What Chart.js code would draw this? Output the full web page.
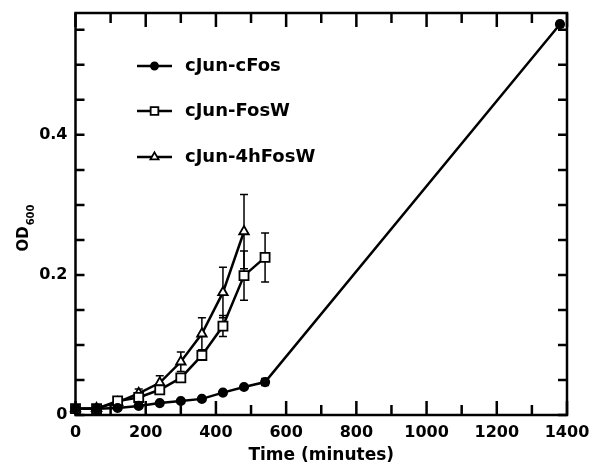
<!DOCTYPE html>
<html>
<head>
<meta charset="utf-8">
<script src="https://cdn.jsdelivr.net/npm/chart.js@4/dist/chart.umd.min.js"></script>
<style>
  body { margin: 0; background: #fff; }
  #wrap { width: 592px; height: 468px; }
</style>
</head>
<body>
<div id="wrap"><canvas id="growthChart" width="592" height="468"></canvas></div>
<script>
// time points (minutes)
const timesShort = [0, 60, 120, 180, 240, 300, 360, 420, 480, 540];
const timesFos = [0, 60, 120, 180, 240, 300, 360, 420, 480, 540, 1380];
const timesHFosW = [0, 60, 120, 180, 240, 300, 360, 420, 480];

// OD600 values
const cFosValues = [0.009, 0.009, 0.010, 0.013, 0.017, 0.020, 0.023, 0.032, 0.040, 0.047, 0.558];
const cFosErrors = [0, 0, 0, 0, 0, 0, 0, 0, 0, 0.005, 0.004];
const fosWValues = [0.009, 0.009, 0.020, 0.025, 0.036, 0.053, 0.085, 0.127, 0.199, 0.225];
const fosWErrors = [0, 0, 0.002, 0.003, 0.005, 0.004, 0.004, 0.015, 0.035, 0.035];
const hFosWValues = [0.009, 0.0095, 0.018, 0.031, 0.046, 0.076, 0.116, 0.175, 0.262];
const hFosWErrors = [0, 0, 0.002, 0.006, 0.010, 0.014, 0.023, 0.036, 0.053];

const seriesLabels = ['cJun-cFos', 'cJun-FosW', 'cJun-4hFosW'];

// axis ticks
const xTicks = [0, 100, 200, 300, 400, 500, 600, 700, 800, 900, 1000, 1100, 1200, 1300, 1400];
const xTickLabels = [0, 200, 400, 600, 800, 1000, 1200, 1400];
const yTicks = [0, 0.05, 0.1, 0.15, 0.2, 0.25, 0.3, 0.35, 0.4, 0.45, 0.5, 0.55];
const yTickLabels = [0, 0.2, 0.4];

const FONT = "'DejaVu Sans', sans-serif";

function toPoints(xs, ys) {
  return xs.map((x, i) => ({ x: x, y: ys[i] }));
}

const errorSets = [cFosErrors, fosWErrors, hFosWErrors];

// error bars, drawn under the markers
const errorBars = {
  id: 'errorBars',
  beforeDatasetsDraw(chart) {
    const ctx = chart.ctx;
    const yScale = chart.scales.y;
    ctx.save();
    ctx.strokeStyle = '#000';
    ctx.lineWidth = 1.5;
    chart.data.datasets.forEach((ds, di) => {
      const meta = chart.getDatasetMeta(di);
      const errs = errorSets[di];
      meta.data.forEach((pt, i) => {
        const e = errs[i];
        if (!e) return;
        const v = ds.data[i].y;
        const top = yScale.getPixelForValue(v + e);
        const bot = yScale.getPixelForValue(v - e);
        ctx.beginPath();
        ctx.moveTo(pt.x, top);
        ctx.lineTo(pt.x, bot);
        ctx.moveTo(pt.x - 4, top);
        ctx.lineTo(pt.x + 4, top);
        ctx.moveTo(pt.x - 4, bot);
        ctx.lineTo(pt.x + 4, bot);
        ctx.stroke();
      });
    });
    ctx.restore();
  }
};

// box frame with inward ticks on all four sides
const frameTicks = {
  id: 'frameTicks',
  afterDraw(chart) {
    const ctx = chart.ctx;
    const a = chart.chartArea;
    const xs = chart.scales.x, ys = chart.scales.y;
    ctx.save();
    ctx.strokeStyle = '#000';
    ctx.lineWidth = 2.5;
    ctx.beginPath();
    xTicks.forEach(v => {
      const px = xs.getPixelForValue(v);
      const len = xTickLabels.includes(v) ? 14 : 10;
      ctx.moveTo(px, a.bottom);
      ctx.lineTo(px, a.bottom - len);
      ctx.moveTo(px, a.top);
      ctx.lineTo(px, a.top + len);
    });
    yTicks.forEach(v => {
      const py = ys.getPixelForValue(v);
      ctx.moveTo(a.left, py);
      ctx.lineTo(a.left + 9, py);
      ctx.moveTo(a.right, py);
      ctx.lineTo(a.right - 9, py);
    });
    ctx.stroke();
    ctx.strokeRect(a.left, a.top, a.right - a.left, a.bottom - a.top);
    ctx.restore();
  }
};

// legend inside the plot, upper left
const insideLegend = {
  id: 'insideLegend',
  afterDraw(chart) {
    const ctx = chart.ctx;
    const rows = [66, 111, 157];
    ctx.save();
    chart.data.datasets.forEach((ds, i) => {
      const y = rows[i];
      ctx.strokeStyle = '#000';
      ctx.lineWidth = 2.5;
      ctx.beginPath();
      ctx.moveTo(137, y);
      ctx.lineTo(172, y);
      ctx.stroke();
      ctx.lineWidth = ds.pointBorderWidth;
      ctx.strokeStyle = '#000';
      ctx.fillStyle = ds.pointBackgroundColor;
      Chart.helpers.drawPoint(ctx, {
        pointStyle: ds.pointStyle,
        radius: ds.pointRadius * 0.85,
        rotation: 0,
        borderWidth: ds.pointBorderWidth
      }, 154.5, y);
      ctx.fillStyle = '#000';
      ctx.font = 'bold 18px ' + FONT;
      ctx.textBaseline = 'middle';
      ctx.textAlign = 'left';
      ctx.fillText(ds.label, 185, y);
    });
    ctx.restore();
  }
};

// rotated y title with subscript
const yTitle = {
  id: 'yTitle',
  afterDraw(chart) {
    const ctx = chart.ctx;
    ctx.save();
    ctx.fillStyle = '#000';
    ctx.translate(24, 228);
    ctx.rotate(-Math.PI / 2);
    ctx.textBaseline = 'middle';
    ctx.font = 'bold 15px ' + FONT;
    const w1 = ctx.measureText('OD').width;
    ctx.font = 'bold 10px ' + FONT;
    const w2 = ctx.measureText('600').width;
    const start = -(w1 + w2 + 1) / 2;
    ctx.textAlign = 'left';
    ctx.font = 'bold 15px ' + FONT;
    ctx.fillText('OD', start, 0);
    ctx.font = 'bold 10px ' + FONT;
    ctx.fillText('600', start + w1 + 1, 7);
    ctx.restore();
  }
};

function lineSet(label, xs, ys, style, radius, fill) {
  return {
    label: label,
    data: toPoints(xs, ys),
    borderColor: '#000',
    borderWidth: 2.5,
    pointStyle: style,
    pointRadius: radius,
    pointHoverRadius: radius,
    pointBackgroundColor: fill,
    pointBorderColor: '#000',
    pointBorderWidth: 1.8,
    tension: 0,
    fill: false,
    clip: false
  };
}

function noPad(s) {
  s.paddingTop = 0;
  s.paddingBottom = 0;
  s.paddingLeft = 0;
  s.paddingRight = 0;
}

new Chart(document.getElementById('growthChart').getContext('2d'), {
  type: 'line',
  data: {
    datasets: [
      lineSet(seriesLabels[0], timesFos, cFosValues, 'circle', 4.2, '#000'),
      lineSet(seriesLabels[1], timesShort, fosWValues, 'rect', 6.4, '#fff'),
      lineSet(seriesLabels[2], timesHFosW, hFosWValues, 'triangle', 5.5, '#fff')
    ]
  },
  options: {
    responsive: false,
    animation: false,
    layout: { padding: { left: 0, right: 25, top: 13, bottom: 0 } },
    plugins: {
      legend: { display: false },
      tooltip: { enabled: false }
    },
    scales: {
      x: {
        type: 'linear',
        min: 0,
        max: 1400,
        grid: { display: false, drawTicks: false },
        border: { display: false },
        afterBuildTicks: s => { s.ticks = xTicks.map(v => ({ value: v })); },
        afterFit: s => { s.height = 53; noPad(s); },
        ticks: {
          autoSkip: false,
          maxRotation: 0,
          padding: 8,
          color: '#000',
          font: { family: FONT, size: 16, weight: 'bold' },
          callback: v => xTickLabels.includes(v) ? String(v) : ''
        },
        title: {
          display: true,
          text: 'Time (minutes)',
          color: '#000',
          font: { family: FONT, size: 17, weight: 'bold' },
          padding: { top: 0, bottom: 2 }
        }
      },
      y: {
        min: 0,
        max: 0.574,
        grid: { display: false, drawTicks: false },
        border: { display: false },
        afterBuildTicks: s => { s.ticks = yTicks.map(v => ({ value: v })); },
        afterFit: s => { s.width = 75.5; noPad(s); },
        ticks: {
          autoSkip: false,
          padding: 8,
          color: '#000',
          font: { family: FONT, size: 16, weight: 'bold' },
          callback: v => {
            const hit = yTickLabels.find(t => Math.abs(t - v) < 1e-6);
            return hit === undefined ? '' : String(hit);
          }
        }
      }
    }
  },
  plugins: [errorBars, frameTicks, insideLegend, yTitle]
});
</script>
</body>
</html>
